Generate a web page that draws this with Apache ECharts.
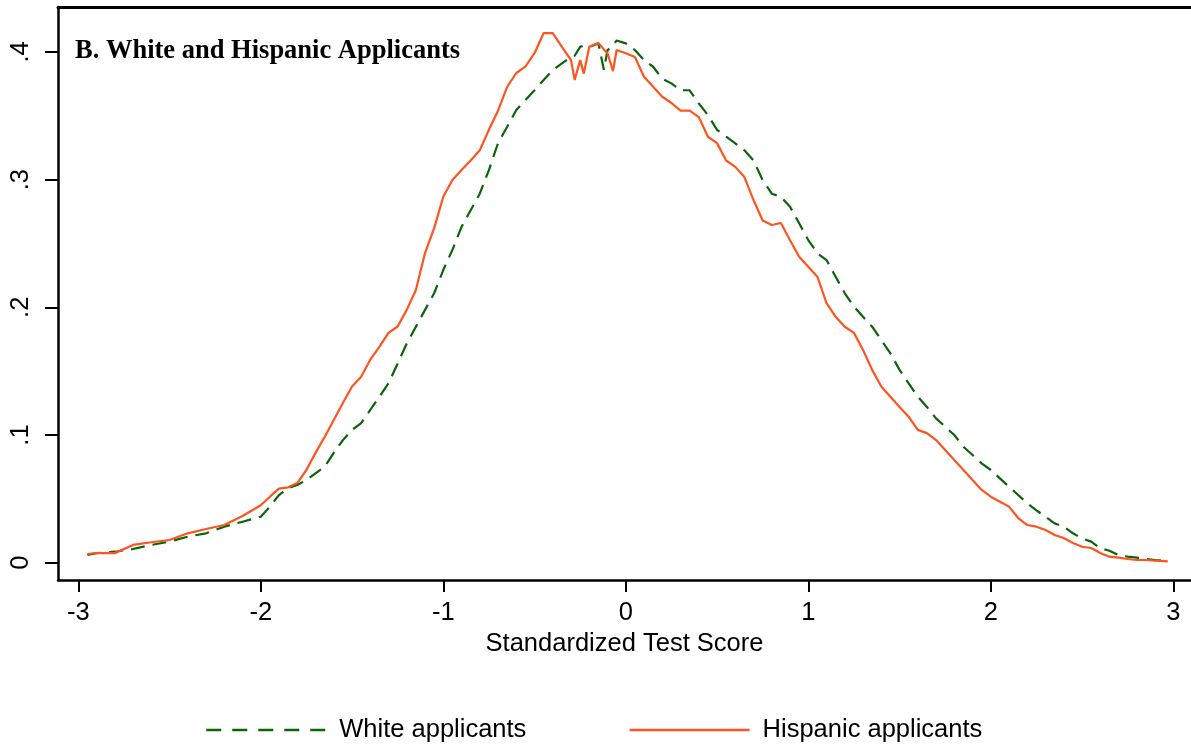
<!DOCTYPE html>
<html>
<head>
<meta charset="utf-8">
<script src="https://cdn.jsdelivr.net/npm/echarts@6/dist/echarts.min.js"></script>
<style>html,body{margin:0;padding:0;background:#fff;}#c{width:1191px;height:748px;}</style>
</head>
<body>
<div id="c"></div>
<script>
const xTicks = [-3, -2, -1, 0, 1, 2, 3];
const yTicks = [0, 0.1, 0.2, 0.3, 0.4];
const scores = [-2.95,-2.9,-2.8,-2.7,-2.6,-2.5,-2.4,-2.3,-2.2,-2.1,-2.0,-1.95,-1.9,-1.85,-1.8,-1.75,-1.7,-1.65,-1.6,-1.55,-1.5,-1.45,-1.4,-1.35,-1.3,-1.25,-1.2,-1.15,-1.1,-1.05,-1.0,-0.95,-0.9,-0.85,-0.8,-0.75,-0.7,-0.65,-0.6,-0.55,-0.5,-0.45,-0.4,-0.35,-0.3,-0.28,-0.25,-0.23,-0.2,-0.15,-0.12,-0.1,-0.07,-0.05,0,0.05,0.1,0.15,0.2,0.25,0.3,0.35,0.4,0.45,0.5,0.55,0.6,0.65,0.7,0.75,0.8,0.85,0.9,0.95,1.0,1.05,1.1,1.15,1.2,1.25,1.3,1.35,1.4,1.45,1.5,1.55,1.6,1.65,1.7,1.75,1.8,1.85,1.9,1.95,2.0,2.05,2.1,2.15,2.2,2.25,2.3,2.35,2.4,2.45,2.5,2.55,2.6,2.65,2.7,2.75,2.8,2.85,2.9,2.95,2.97];
const whiteDensity = [0.006,0.0075,0.0086,0.0107,0.0139,0.0165,0.0204,0.023,0.0282,0.0321,0.036,0.0439,0.053,0.0585,0.0608,0.0648,0.07,0.0752,0.086,0.096,0.104,0.1093,0.1196,0.13,0.1405,0.156,0.1718,0.1848,0.198,0.211,0.2292,0.245,0.263,0.276,0.289,0.3075,0.3286,0.3414,0.3545,0.3623,0.37,0.378,0.3858,0.391,0.396,0.397,0.404,0.405,0.404,0.4067,0.386,0.4015,0.405,0.409,0.4067,0.4015,0.3936,0.3884,0.379,0.3754,0.37,0.37,0.3597,0.3506,0.339,0.3336,0.3284,0.323,0.315,0.2996,0.289,0.2866,0.2788,0.2658,0.2527,0.2423,0.237,0.224,0.211,0.2005,0.1926,0.1848,0.1744,0.164,0.151,0.1405,0.13,0.122,0.113,0.1065,0.1,0.0908,0.0843,0.0778,0.0726,0.066,0.0595,0.053,0.0465,0.041,0.036,0.0308,0.0282,0.023,0.019,0.0165,0.0113,0.0094,0.006,0.0047,0.004,0.003,0.002,0.0019,0.0017];
const hispanicDensity = [0.0068,0.0076,0.0075,0.0139,0.016,0.0178,0.023,0.0264,0.0295,0.0366,0.045,0.0517,0.058,0.059,0.0624,0.0726,0.086,0.0985,0.1117,0.125,0.138,0.1457,0.159,0.169,0.18,0.185,0.198,0.2135,0.2425,0.262,0.2866,0.2997,0.3075,0.315,0.323,0.339,0.354,0.3727,0.3835,0.3885,0.399,0.4148,0.4148,0.404,0.3936,0.378,0.3936,0.383,0.404,0.407,0.402,0.399,0.385,0.4015,0.399,0.396,0.3806,0.3727,0.3649,0.36,0.354,0.354,0.349,0.3336,0.3286,0.315,0.31,0.302,0.284,0.268,0.2645,0.266,0.2526,0.2396,0.2318,0.224,0.2032,0.1926,0.1848,0.18,0.1666,0.151,0.138,0.13,0.122,0.1143,0.104,0.1015,0.096,0.0883,0.0804,0.0726,0.0648,0.057,0.0517,0.0478,0.0439,0.035,0.0295,0.0282,0.0256,0.0217,0.0193,0.0154,0.0125,0.0115,0.0076,0.0047,0.004,0.0029,0.0021,0.0021,0.0016,0.0013,0.001];
const seriesNames = ['White applicants', 'Hispanic applicants'];
const panelTitle = 'B. White and Hispanic Applicants';
const xTitle = 'Standardized Test Score';

const FONT = '"Liberation Sans", Arial, sans-serif';
const GREEN = '#0a640a';
const ORANGE = '#ff5420';
const chart = echarts.init(document.getElementById('c'), null, {renderer: 'canvas'});
chart.setOption({
  animation: false,
  backgroundColor: '#ffffff',
  title: {
    text: panelTitle, left: 70, top: 33,
    textStyle: {fontFamily: '"Liberation Serif", "Times New Roman", serif', fontWeight: 'bold', fontSize: 26.5, color: '#000'}
  },
  grid: {left: 58, top: 7, right: 0, bottom: 168, containLabel: false},
  legend: {
    left: 200, top: 712,
    itemWidth: 120, itemHeight: 20, itemGap: 102,
    itemStyle: {opacity: 0},
    textStyle: {fontFamily: FONT, fontSize: 25.5, color: '#000', padding: [0,0,0,8]},
    data: [
      {name: seriesNames[0], lineStyle: {color: GREEN, width: 2.5, type: [15, 11]}},
      {name: seriesNames[1], lineStyle: {color: ORANGE, width: 2.5}}
    ]
  },
  xAxis: [{
    type: 'value', min: -3.111, max: 3.097,
    name: xTitle, nameLocation: 'middle', nameGap: 48,
    nameTextStyle: {fontFamily: FONT, fontSize: 25.5, color: '#000'},
    axisLine: {show: true, onZero: false, lineStyle: {color: '#000', width: 2.5}},
    axisTick: {show: true, length: 12, lineStyle: {color: '#000', width: 2}, customValues: xTicks},
    axisLabel: {fontFamily: FONT, fontSize: 25.5, color: '#000', margin: 20, customValues: xTicks,
      formatter: v => String(v)},
    splitLine: {show: false}
  }, {
    type: 'value', position: 'top', min: -3.111, max: 3.097,
    axisLine: {show: true, onZero: false, lineStyle: {color: '#000', width: 3}},
    axisTick: {show: false}, axisLabel: {show: false}, splitLine: {show: false}
  }],
  yAxis: {
    type: 'value', min: -0.01355, max: 0.4352,
    axisLine: {show: true, onZero: false, lineStyle: {color: '#000', width: 2.5}},
    axisTick: {show: true, length: 13, lineStyle: {color: '#000', width: 2}, customValues: yTicks},
    axisLabel: {fontFamily: FONT, fontSize: 25.5, color: '#000', margin: 24, rotate: 90, customValues: yTicks,
      formatter: v => v === 0 ? '0' : '.' + Math.round(v * 10)},
    splitLine: {show: false}
  },
  series: [{
    name: seriesNames[0], type: 'line', symbol: 'none', smooth: false,
    data: scores.map((s, i) => [s, whiteDensity[i]]),
    lineStyle: {color: GREEN, width: 2.2, type: [14, 8]},
    itemStyle: {color: GREEN}
  }, {
    name: seriesNames[1], type: 'line', symbol: 'none', smooth: false,
    data: scores.map((s, i) => [s, hispanicDensity[i]]),
    lineStyle: {color: ORANGE, width: 2.2},
    itemStyle: {color: ORANGE}
  }]
});
</script>
</body>
</html>
